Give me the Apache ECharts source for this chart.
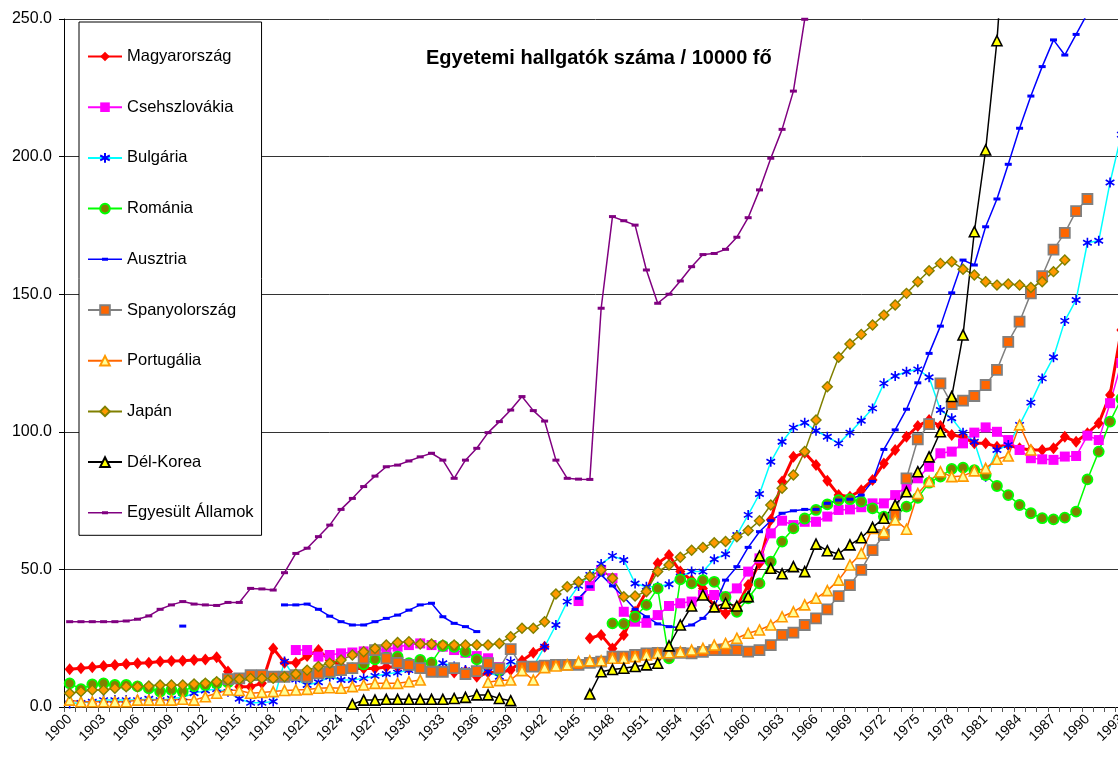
<!DOCTYPE html>
<html><head><meta charset="utf-8">
<script src="https://cdn.jsdelivr.net/npm/echarts@6/dist/echarts.min.js"></script>
<style>html,body{margin:0;padding:0;overflow:hidden;background:#fff}#c{width:1140px;height:758px}</style>
</head><body><div id="c"></div>
<script>
const years = [];
for (let y = 1900; y <= 1993; y++) years.push(String(y));
const N = null;
const yTicks = [0, 50, 100, 150, 200, 250];

const hu = [13.7,14.1,14.4,14.9,15.3,15.6,15.9,16.1,16.5,16.7,
16.8,17.1,17.3,18.1,12.9,7.4,7.4,8.6,21.3,16.1,
16.1,18.5,20.7,17,15,14,14,14,14.5,14.5,
14,14,13.5,13,12.5,13,11,12.5,12.5,13.4,
16.8,19.7,21.9,N,N,N,25,26.2,21.3,26.2,
34.6,42,52.2,55.2,49.2,46.1,43.1,36.4,34.0,36.4,
44.3,52.2,68.0,81.9,90.9,92.4,87.9,82.2,77.0,76.4,
78.8,82.5,88.5,93.4,98.2,102.1,104.3,102.1,98.8,98.2,
95.8,95.8,94.6,95.2,94.0,93.4,93.4,94.0,98.2,96.4,
99.5,103.1,113.4,137];

const cs = [N,N,N,N,N,N,N,N,N,N,
N,N,N,N,N,N,N,N,N,N,
20.7,20.7,18.3,18.9,19.5,19.8,20.2,20.7,20.7,21.9,
22.5,23.1,22.5,21.9,20.7,19.7,18.5,17.7,14.5,N,
N,N,N,N,N,38.5,44,49.8,46.8,34.6,
31.0,30.6,33.4,36.7,37.7,38.3,40.7,40.7,40.1,43.1,
49.2,54,63.1,67.7,66.1,67.3,67.3,69.2,71.6,71.8,
72.6,74.0,74.0,77.0,80.1,83.1,87.3,92.2,92.8,95.8,
99.7,101.6,100.0,97.0,93.4,90.4,90.0,89.8,91.0,91.2,
98.6,97.0,110.4,125];

const bg = [1.3,1.5,1.9,2.5,2.5,2.5,2.5,3.0,2.5,3.0,
3.5,5.0,6.0,6.5,5.5,3.0,1.5,1.5,2.0,16.5,
10,8,9,11.0,9.8,9.8,10.4,11.3,12.0,12.5,
13.4,13.7,13.9,15.9,14.7,13.4,13.4,12.8,11.0,16.5,
14.7,14.7,21.9,29.8,38.3,44,48,52,54.9,53.4,
44.9,43.7,43.7,44.6,47.4,49.2,49.2,53.7,55.5,62.5,
69.8,77.4,89.1,96.4,101.5,103.3,100.4,98.2,95.8,99.7,
104.0,108.5,117.6,120.3,121.8,122.7,119.8,107.9,104.9,99.7,
96.4,83.7,93.4,95.2,102.5,110.6,119.4,127.1,140.3,147.9,
168.7,169.4,190.6,208];

const ro = [8.6,6.5,8.2,8.6,8.0,8.0,7.5,6.8,5.6,6.2,
5.6,7.6,8.0,8.6,9.0,N,N,N,N,N,
N,11,12.2,12.5,13.4,14,15.5,17.3,17.9,18.3,
15.9,17.1,16.1,22.2,21.9,20.1,17.3,15.9,13.4,N,
N,N,N,N,N,N,N,N,30.4,30.2,
32.8,37.1,43.1,17.7,46.4,44.9,46.1,45.5,40,34.6,
39.5,44.9,52.8,60.1,64.9,68.5,71.6,73.6,75.2,75.5,
74.6,72.2,69.2,69.2,72.8,76,81.5,83.7,86.5,87,
86.1,84.3,80.3,77.0,73.4,70.4,68.6,68.2,68.8,71.0,
82.7,92.8,103.7,112];

const at = [N,N,N,N,N,N,N,N,N,N,
29.4,N,N,N,N,N,N,N,N,37.1,
37.1,37.4,35.5,33.0,31.0,29.8,29.8,31.0,32.2,33.4,
35.2,37.1,37.7,32.8,30.4,29.2,27.4,N,N,N,
N,N,N,N,N,39.5,43.7,48,44,40,
35.5,32.8,30.2,29.2,28.9,29.8,32.2,36.4,46.1,51.0,
58.0,63.7,67.7,70.4,71.3,71.8,71.8,74.0,75.2,75.5,
77.0,82,93.6,100.7,108.2,117.8,128.5,138.4,150.5,162.4,
160.6,174.5,184.6,197.2,210.3,222.0,232.7,242.4,236.9,244.4,
252,265,N,N];

const es = [N,N,N,N,N,N,N,N,N,N,
N,N,N,N,10.1,10.4,11.6,11.6,11.0,11.0,
11.6,11.0,12.2,12.8,13.4,14.1,17.7,20.7,17.7,16,
15.3,14.1,12.8,12.8,14.1,12.0,13,15.9,14,21.0,
14.7,14.7,15,15.3,15.3,15.3,16,16.5,18.3,18.3,
18.9,19.5,19.7,19.5,19.7,19.5,20,20.7,20.7,20.7,
20.1,20.7,22.5,26.2,27.0,29.8,32.2,35.5,40.3,44.3,
49.8,57.0,62.5,70,83.1,97.3,102.8,117.6,110.1,111.3,
113.0,117.0,122.5,132.7,140.0,150.3,156.6,166.2,172.3,180.2,
184.6,N,N,N];

const pt = [2.5,1.9,1.9,1.9,1.9,1.9,2.5,2.5,2.5,2.5,
2.8,2.5,3.7,5.0,6.2,6.0,5.0,5.3,5.6,6.0,
6.2,6.4,6.8,7,6.8,7.4,8.0,8.6,8.6,8.6,
9.2,9.8,N,N,N,N,N,9.0,9.6,9.8,
13.2,9.8,14.3,14.9,15.3,16.5,16.8,16.8,17.7,17.7,
18.3,18.9,19.5,19.7,20.1,20.7,21.3,22.5,23.1,25.0,
26.8,28.0,29.8,32.8,34.6,37.1,39.5,42.3,46.1,51.6,
55.8,64.9,63.7,68.0,64.6,77.6,82,85.5,83.7,83.9,
85.8,86.7,90.0,91.2,102.5,93.4,N,N,N,N,
N,N,N,N];

const jp = [5.0,5.6,6.2,6.2,6.8,7.4,7.4,7.6,8.0,8.0,
8.0,8.4,8.6,9.2,9.8,10.1,10.4,10.4,10.4,11.0,
12.0,13.4,14.7,15.9,17.1,18.9,20.1,21.3,22.5,23.4,
23.7,22.9,22.9,22.5,22.5,22.5,22.5,22.5,23.1,25.5,
28.6,28.6,31.0,41.1,43.7,45.5,47.4,49.8,46.8,40.1,
40.3,42.0,49.2,51.6,54.4,57.0,58.0,59.7,60.1,61.9,
64.1,67.7,73.4,79.5,84.3,92.8,104.3,116.4,127.1,131.9,
135.4,138.8,142.4,146.1,150.3,154.5,158.5,161.2,161.8,159.1,
157.0,154.5,153.3,153.7,153.3,152.4,154.5,158.2,162.4,N,
N,N,N,N];

const kr = [N,N,N,N,N,N,N,N,N,N,
N,N,N,N,N,N,N,N,N,N,
N,N,N,N,N,1.0,2.5,2.5,2.8,2.8,
2.8,2.8,2.8,2.8,3.1,3.5,4.4,4.4,3.1,2.3,
N,N,N,N,N,N,4.7,12.8,13.6,14.1,
14.7,15.3,15.9,22.2,29.8,36.7,40.7,36.4,37.7,36.7,
40.1,54.9,50.4,48.4,51.0,49.2,59.2,56.8,55.6,58.9,
61.5,65.3,68.6,73.4,78.2,85.5,90.9,100.0,112.8,135.2,
172.7,202.4,242.1,300,N,N,N,N,N,N,
N,N,N,N];

const us = [31.0,31.0,31.0,31.0,31.0,31.25,31.9,33.1,35.5,37.1,
38.3,37.4,37.1,36.9,38.0,38.0,43.1,42.9,42.5,48.8,
55.8,57.7,61.9,66.1,71.8,75.8,80.1,83.9,87.3,87.9,
89.4,90.9,92.2,89.7,83.1,89.7,94.0,99.7,103.7,107.9,
112.8,107.7,103.9,89.7,83.1,82.8,82.7,144.9,178.2,176.7,
175.1,158.8,146.7,150.0,154.8,160.0,164.4,164.8,166.3,170.7,
177.8,187.9,199.4,209.9,223.8,249.9,280,N,N,N,
N,N,N,N,N,N,N,N,N,N,
N,N,N,N,N,N,N,N,N,N,
N,N,N,N];

const FONT = 'Liberation Sans, Arial, sans-serif';
const star = 'path://M5,0L5,10M0.67,2.5L9.33,7.5M0.67,7.5L9.33,2.5';
const dash = 'path://M0,0L7,0L7,3L0,3Z';
const dashLegend = 'path://M0,0L0.01,0L0.01,0.01Z M34,12L33.99,12L33.99,11.99Z M0,5.3L34,5.3L34,6.7L0,6.7Z M14,4.5L20,4.5L20,7.5L14,7.5Z';

function mk(name, data, line, lw, symbol, size, fill, border, bw) {
  return {
    name, type: 'line', data,
    symbol, symbolSize: size, symbolKeepAspect: true,
    showSymbol: true, showAllSymbol: true,
    connectNulls: false, clip: true,
    lineStyle: { color: line, width: lw },
    itemStyle: { color: fill, borderColor: border, borderWidth: bw },
    emphasis: { disabled: true }
  };
}

const series = [
  mk('Magyarország', hu, '#FF0000', 3, 'diamond', [10, 12], '#FF0000', '#FF0000', 0),
  mk('Csehszlovákia', cs, '#FF00FF', 1.5, 'rect', 10, '#FF00FF', '#FF00FF', 0),
  mk('Bulgária', bg, '#00FFFF', 1.5, star, 10, 'rgba(0,0,0,0)', '#0000FF', 1.6),
  mk('Románia', ro, '#00FF00', 1.5, 'circle', 10, '#808000', '#00FF00', 1.8),
  mk('Ausztria', at, '#0000FF', 1.5, dash, 7, '#0000FF', '#0000FF', 0),
  mk('Spanyolország', es, '#808080', 1.5, 'rect', 10, '#FF6600', '#808080', 1.8),
  mk('Portugália', pt, '#FF6600', 1.5, 'triangle', 10, '#FFFF99', '#FF9900', 1.6),
  mk('Japán', jp, '#808000', 1.5, 'diamond', 10, '#FF9900', '#808000', 1.4),
  mk('Dél-Korea', kr, '#000000', 1.5, 'triangle', 10, '#FFFF00', '#000000', 1.6),
  mk('Egyesült Államok', us, '#800080', 1.5, dash, 7, '#800080', '#800080', 0)
];

const legendData = series.map(s => (s.symbol === dash ? { name: s.name, icon: dashLegend } : { name: s.name }));

const chart = echarts.init(document.getElementById('c'), null, { renderer: 'canvas' });
chart.setOption({
  animation: false,
  backgroundColor: '#fff',
  title: {
    text: 'Egyetemi hallgatók száma / 10000 fő',
    left: 421, top: 43,
    textStyle: { fontFamily: FONT, fontSize: 20, fontWeight: 'bold', color: '#000' }
  },
  legend: {
    orient: 'vertical',
    left: 79, top: 22,
    padding: [26, 8, 14, 8],
    itemWidth: 34, itemHeight: 12,
    itemGap: 33.7,
    backgroundColor: '#fff',
    borderColor: '#000', borderWidth: 1,
    textStyle: { fontFamily: FONT, fontSize: 16.5, color: '#000' },
    data: legendData
  },
  grid: { left: 64, top: 19, width: 1063, height: 688, containLabel: false },
  xAxis: {
    type: 'category', data: years, boundaryGap: true,
    axisLine: { show: true, lineStyle: { color: '#000', width: 1 } },
    axisTick: { show: true, interval: 0, alignWithLabel: false, length: 5, lineStyle: { color: '#555' } },
    axisLabel: { interval: 2, rotate: 45, fontFamily: FONT, fontSize: 14, color: '#000', margin: 10 },
    splitLine: { show: false }
  },
  yAxis: {
    type: 'value', min: 0, max: 250, interval: 50,
    axisLine: { show: true, lineStyle: { color: '#000', width: 1 } },
    axisTick: { show: true, length: 5, lineStyle: { color: '#000' } },
    axisLabel: { fontFamily: FONT, fontSize: 16, color: '#000', margin: 12, formatter: v => v.toFixed(1) },
    splitLine: { show: true, lineStyle: { color: '#333', width: 1 } }
  },
  series
});
</script></body></html>
